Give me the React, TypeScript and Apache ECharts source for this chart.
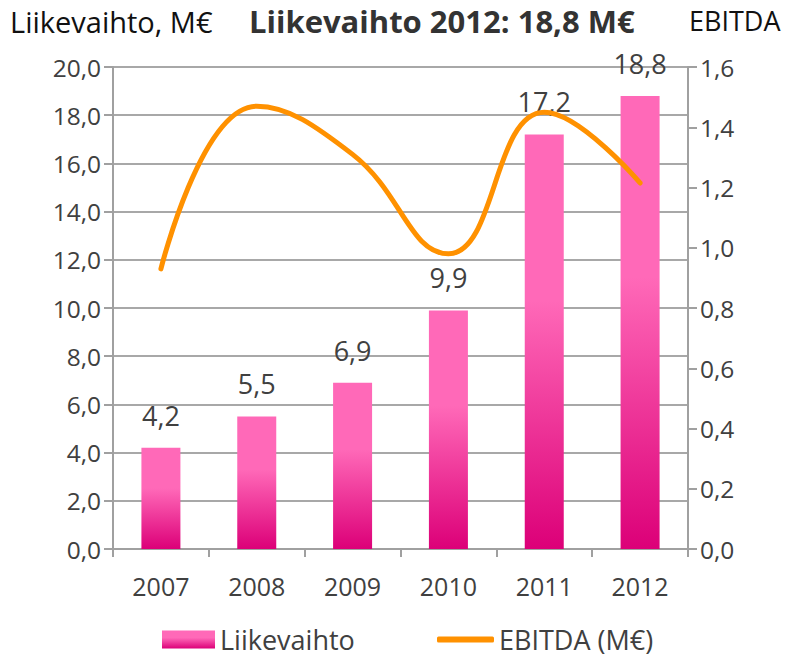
import React, { useEffect, useRef } from "react";
import * as echarts from "echarts";

const years = ["2007", "2008", "2009", "2010", "2011", "2012"];
const revenue = [4.2, 5.5, 6.9, 9.9, 17.2, 18.8];
const ebitda = [0.93, 1.47, 1.31, 0.98, 1.45, 1.215];
const leftTicks = { min: 0, max: 20, interval: 2 };
const rightTicks = { min: 0, max: 1.6, interval: 0.2 };

const FONT = "Open Sans";
const TXT = "#404040";

export default function App() {
  const ref = useRef<HTMLDivElement>(null);
  useEffect(() => {
    const chart = echarts.init(ref.current!, null, { renderer: "svg" });
    const fmt1 = (v: number) => v.toFixed(1).replace(".", ",");
    chart.setOption({
      animation: false,
      textStyle: { fontFamily: FONT },
      title: [
        {
          text: "Liikevaihto 2012: 18,8 M€",
          left: 244,
          top: 0,
          textStyle: { fontFamily: FONT, fontSize: 31, fontWeight: "bold", color: "#333" },
        },
        {
          text: "Liikevaihto, M€",
          left: 5,
          top: 2,
          textStyle: { fontFamily: FONT, fontSize: 29, fontWeight: "normal", color: "#111" },
        },
        {
          text: "EBITDA",
          left: 684,
          top: 2,
          textStyle: { fontFamily: FONT, fontSize: 27, fontWeight: "normal", color: "#111" },
        },
      ],
      legend: [
        {
          left: 162,
          top: 626,
          padding: 0,
          itemGap: 8,
          itemWidth: 53,
          itemHeight: 18,
          textStyle: { fontFamily: FONT, fontSize: 27, color: TXT, lineHeight: 26 },
          data: [{ name: "Liikevaihto", icon: "rect" }],
        },
        {
          left: 437,
          top: 626,
          padding: 0,
          itemGap: 8,
          itemWidth: 57,
          itemHeight: 6,
          textStyle: { fontFamily: FONT, fontSize: 27, color: TXT, lineHeight: 26 },
          data: [{ name: "EBITDA (M€)", icon: "roundRect" }],
        },
      ],
      grid: { left: 113, right: 110, top: 67, bottom: 113 },
      xAxis: {
        type: "category",
        data: years,
        axisLine: { lineStyle: { color: "#a0a0a0", width: 2 } },
        axisTick: { show: true, length: 8, lineStyle: { color: "#a0a0a0", width: 2 } },
        axisLabel: { fontFamily: FONT, fontSize: 25, color: TXT, margin: 24 },
      },
      yAxis: [
        {
          type: "value",
          ...leftTicks,
          axisLine: { show: true, lineStyle: { color: "#a0a0a0", width: 2 } },
          axisTick: { show: true, length: 9, lineStyle: { color: "#a0a0a0", width: 2 } },
          splitLine: { show: true, lineStyle: { color: "#a8a8a8", width: 2 } },
          axisLabel: { fontFamily: FONT, fontSize: 24.5, color: TXT, margin: 12, formatter: fmt1 },
        },
        {
          type: "value",
          ...rightTicks,
          axisLine: { show: true, lineStyle: { color: "#a0a0a0", width: 2 } },
          axisTick: { show: true, length: 9, lineStyle: { color: "#a0a0a0", width: 2 } },
          splitLine: { show: false },
          axisLabel: { fontFamily: FONT, fontSize: 24.5, color: TXT, margin: 12, formatter: fmt1 },
        },
      ],
      series: [
        {
          name: "Liikevaihto",
          type: "bar",
          data: revenue,
          barWidth: 39,
          itemStyle: {
            color: new echarts.graphic.LinearGradient(0, 0, 0, 1, [
              { offset: 0, color: "#ff69b8" },
              { offset: 0.4, color: "#ff69b8" },
              { offset: 1, color: "#dc0078" },
            ]),
          },
          label: {
            show: true,
            position: "top",
            distance: 19,
            fontFamily: FONT,
            fontSize: 27,
            color: TXT,
            formatter: (p: any) => fmt1(p.value),
          },
        },
        {
          name: "EBITDA (M€)",
          type: "line",
          yAxisIndex: 1,
          data: ebitda,
          smooth: 0.45,
          showSymbol: false,
          symbol: "none",
          lineStyle: { color: "#ff9100", width: 5, cap: "round" },
          itemStyle: { color: "#ff9100" },
        },
      ],
    });
    return () => chart.dispose();
  }, []);
  return (
    <div
      ref={ref}
      style={{ position: "absolute", left: 0, top: 0, width: 798, height: 662 }}
    />
  );
}
